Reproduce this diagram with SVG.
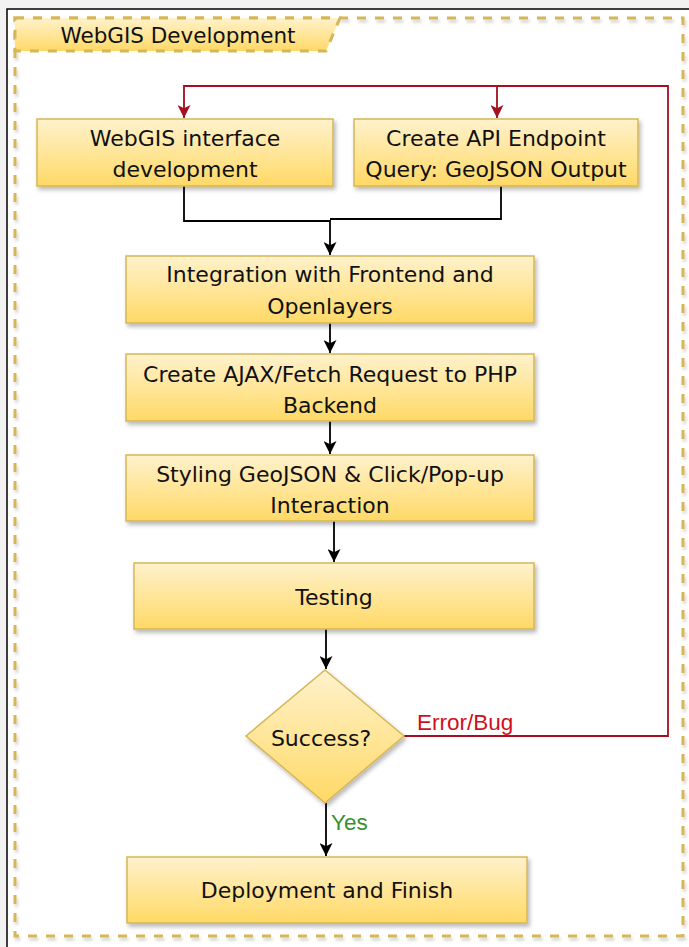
<svg xmlns="http://www.w3.org/2000/svg" width="689" height="947" viewBox="0 0 689 947">
  <defs>
    <linearGradient id="fillGold" x1="0" y1="0" x2="0" y2="1">
      <stop offset="0" stop-color="#fff2cc"/>
      <stop offset="1" stop-color="#ffd966"/>
    </linearGradient>
    <filter id="shadow" x="-10%" y="-10%" width="130%" height="140%">
      <feDropShadow dx="2" dy="3" stdDeviation="2" flood-color="#000" flood-opacity="0.28"/>
    </filter>
    <filter id="softShadow" x="-5%" y="-5%" width="110%" height="110%">
      <feDropShadow dx="1.5" dy="3" stdDeviation="1.5" flood-color="#000" flood-opacity="0.18"/>
    </filter>
    <marker id="arrowBlack" viewBox="0 0 12 12" refX="12" refY="6" markerWidth="13" markerHeight="13" markerUnits="userSpaceOnUse" orient="auto">
      <path d="M0,0 L12,6 L0,12 L3,6 Z" fill="#000"/>
    </marker>
    <marker id="arrowRed" viewBox="0 0 12 12" refX="12" refY="6" markerWidth="13" markerHeight="13" markerUnits="userSpaceOnUse" orient="auto">
      <path d="M0,0 L12,6 L0,12 L3,6 Z" fill="#a50f1f"/>
    </marker>
  </defs>
  <style>
    .box { fill: url(#fillGold); stroke: #d6b656; stroke-width: 1.5; filter: url(#shadow); }
    .frame { fill: none; stroke: #d6b656; stroke-width: 3; stroke-dasharray: 9 9; filter: url(#softShadow); }
    .label { font-family: "DejaVu Sans", Verdana, sans-serif; font-size: 22px; fill: #111; text-anchor: middle; }
    .flow { fill: none; stroke: #000; stroke-width: 1.8; }
    .loop { fill: none; stroke: #a50f1f; stroke-width: 1.8; }
    .edge-label { font-family: "Liberation Sans", Arial, sans-serif; font-size: 22.5px; }
  </style>

  <!-- page background and sheet -->
  <rect x="0" y="0" width="689" height="947" fill="#f2f2f2"/>
  <rect x="7" y="9" width="700" height="960" fill="#ffffff" stroke="#000" stroke-width="1.5"/>

  <!-- container frame with title tab -->
  <g id="container">
    <rect class="frame" x="15" y="18" width="668" height="918"/>
    <path d="M15,18 L340,18 L326,51 L15,51 Z" fill="url(#fillGold)" stroke="#d6b656" stroke-width="3" stroke-dasharray="9 9"/>
    <text x="178" y="43" class="label" style="font-size:21.5px">WebGIS Development</text>
  </g>

  <!-- connectors -->
  <g id="connectors">
    <path class="flow" d="M184,186 V221 H330 V255" marker-end="url(#arrowBlack)"/>
    <path class="flow" d="M501,186 V219 H330"/>
    <path class="flow" d="M330,323 V353" marker-end="url(#arrowBlack)"/>
    <path class="flow" d="M330,421 V454" marker-end="url(#arrowBlack)"/>
    <path class="flow" d="M334,521 V562" marker-end="url(#arrowBlack)"/>
    <path class="flow" d="M326,629 V669" marker-end="url(#arrowBlack)"/>
    <path class="flow" d="M326,803 V856" marker-end="url(#arrowBlack)"/>
    <path class="loop" d="M404,736 H668 V86 H184 V118" marker-end="url(#arrowRed)"/>
    <path class="loop" d="M497,86 V118" marker-end="url(#arrowRed)"/>
    <text x="417" y="730" class="edge-label" fill="#d0101c">Error/Bug</text>
    <text x="331" y="830" class="edge-label" fill="#3a8f2a">Yes</text>
  </g>

  <g id="webgis-interface">
    <rect class="box" x="37" y="119" width="296" height="67"/>
    <text x="185" y="146" class="label">WebGIS interface</text>
    <text x="185" y="177" class="label">development</text>
  </g>

  <g id="api-endpoint">
    <rect class="box" x="354" y="119" width="284" height="67"/>
    <text x="496" y="146" class="label">Create API Endpoint</text>
    <text x="496" y="177" class="label">Query: GeoJSON Output</text>
  </g>

  <g id="integration">
    <rect class="box" x="126" y="256" width="408" height="67"/>
    <text x="330" y="282" class="label">Integration with Frontend and</text>
    <text x="330" y="314" class="label">Openlayers</text>
  </g>

  <g id="ajax-request">
    <rect class="box" x="126" y="354" width="408" height="67"/>
    <text x="330" y="382" class="label">Create AJAX/Fetch Request to PHP</text>
    <text x="330" y="413" class="label">Backend</text>
  </g>

  <g id="styling">
    <rect class="box" x="126" y="455" width="408" height="66"/>
    <text x="330" y="482" class="label">Styling GeoJSON &amp; Click/Pop-up</text>
    <text x="330" y="513" class="label">Interaction</text>
  </g>

  <g id="testing">
    <rect class="box" x="134" y="563" width="400" height="66"/>
    <text x="334" y="605" class="label">Testing</text>
  </g>

  <g id="success">
    <path class="box" d="M325,670 L404,736 L325,803 L246,736 Z"/>
    <text x="321" y="746" class="label">Success?</text>
  </g>

  <g id="deployment">
    <rect class="box" x="127" y="857" width="400" height="66"/>
    <text x="327" y="898" class="label">Deployment and Finish</text>
  </g>
</svg>
